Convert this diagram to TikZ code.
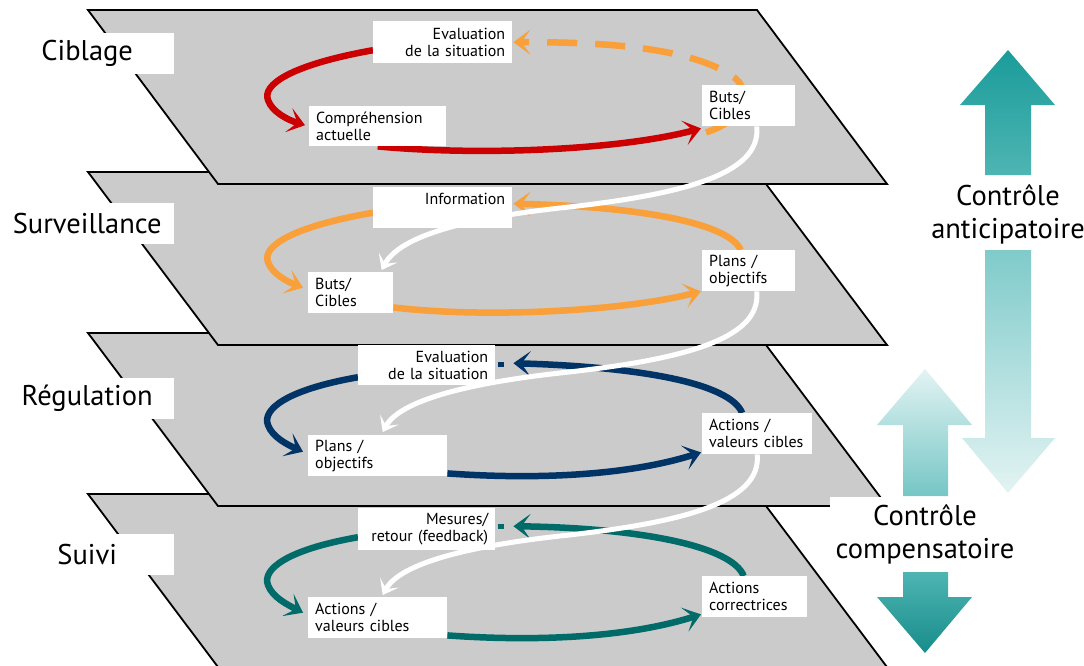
\documentclass[tikz,border=0pt]{standalone}
\usepackage{fontspec}
\setmainfont{PT Sans}
\usetikzlibrary{arrows.meta,calc}
\definecolor{planegray}{HTML}{CBCBCB}
\definecolor{cred}{HTML}{CC0000}
\definecolor{corange}{HTML}{F9A03A}
\definecolor{cnavy}{HTML}{003366}
\definecolor{cteal}{HTML}{006B68}
\definecolor{tdark}{HTML}{1A9C9A}
\definecolor{tmid}{HTML}{4EB5B3}
\definecolor{tlight}{HTML}{7FCBCA}
\definecolor{tpale}{HTML}{E3F3F3}
\pgfdeclarelayer{planes}
\pgfdeclarelayer{arcs}
\pgfdeclarelayer{wlines}
\pgfsetlayers{planes,arcs,wlines,main}
\tikzset{
  plane/.style={fill=planegray, draw=black, line width=1.8pt, line join=miter},
  box/.style={fill=white, inner xsep=7pt, inner ysep=0pt, anchor=north west,
              font=\fontsize{16}{17}\selectfont},
  lvl/.style={fill=white, inner sep=0pt, minimum width=174pt, minimum height=41pt,
              anchor=north west, font=\fontsize{28.5}{32}\selectfont},
  ctrl/.style={fill=white, inner sep=0pt, align=center, font=\fontsize{28.5}{33}\selectfont},
  loop/.style={line width=6.5pt, -{Stealth[length=17pt,width=25pt,inset=9pt]}},
  wlink/.style={white, line width=5pt, -{Stealth[length=14pt,width=21pt,inset=7pt]}},
}
\begin{document}
\begin{tikzpicture}[x=1pt,y=-1pt]
\useasboundingbox (0,0) rectangle (1084,665);

% level labels
\node[lvl] (lc) at (0,33) {Ciblage};
\node[lvl] (ls) at (0,203) {Surveillance};
\node[lvl] (lr) at (0,378) {Régulation};
\node[lvl] (lsu) at (0,534) {Suivi};

% level 1
\node[box, text width=125pt, minimum height=42pt, align=right] (ev1) at (373,21) {Evaluation\\\mbox{de la situation}};
\node[box, text width=123pt, minimum height=40pt, align=left] (comp1) at (309,106) {Compréhension\\actuelle};
\node[box, text width=79pt, minimum height=41pt, align=left] (buts1) at (702,85) {Buts/\\Cibles};
% level 2
\node[box, text width=125pt, minimum height=41pt, align=right] (info2) at (373,187) {Information\\\mbox{}};
\node[box, text width=71pt, minimum height=41pt, align=left] (buts2) at (308,272) {Buts/\\Cibles};
\node[box, text width=79pt, minimum height=41pt, align=left] (plans2) at (702,250) {Plans /\\objectifs};
% level 3
\node[box, text width=123pt, minimum height=40pt, align=right] (ev3) at (358,345) {Evaluation\\\mbox{de la situation}};
\node[box, text width=125pt, minimum height=41pt, align=left] (plans3) at (308,435) {Plans /\\objectifs};
\node[box, text width=96pt, minimum height=41pt, align=left] (act3) at (702,413) {Actions /\\\mbox{valeurs cibles}};
% level 4
\node[box, text width=123pt, minimum height=42pt, align=right] (mes4) at (358,508) {Mesures/\\\mbox{retour (feedback)}};
\node[box, text width=125pt, minimum height=41pt, align=left] (act4) at (308,597) {Actions /\\\mbox{valeurs cibles}};
\node[box, text width=91pt, minimum height=41pt, align=left] (cor4) at (702,576) {Actions\\correctrices};

% control labels
\node[ctrl] (cant) at (1008,214) {Contrôle\\anticipatoire};
\node[ctrl, minimum width=190pt, minimum height=74pt] (ccomp) at (925,534) {Contrôle\\compensatoire};

% big arrows
\shade[top color=tdark, bottom color=tmid]
  (985,175) -- (985,105) -- (960,105) -- (1008,50) -- (1055,105) -- (1031,105) -- (1031,175) -- cycle;
\shade[top color=tlight, bottom color=tpale]
  (985,250) -- (985,438) -- (962,438) -- (1008,493) -- (1055,438) -- (1031,438) -- (1031,250) -- cycle;
\shade[top color=tpale, bottom color=tlight!90!tdark]
  (903,496) -- (903,425) -- (877,425) -- (925,369) -- (972,425) -- (948,425) -- (948,496) -- cycle;
\shade[top color=tmid, bottom color=tdark!90!black]
  (903,572) -- (903,597) -- (877,597) -- (925,653) -- (972,597) -- (948,597) -- (948,572) -- cycle;

\begin{pgfonlayer}{planes}
\draw[plane] (88,494) -- (757,494) -- (887,667) -- (218,667) -- cycle;
\draw[plane] (88,333) -- (757,333) -- (887,506) -- (218,506) -- cycle;
\draw[plane] (88,172) -- (757,172) -- (887,345) -- (218,345) -- cycle;
\draw[plane] (88,10) -- (757,10) -- (887,184) -- (218,184) -- cycle;
\end{pgfonlayer}

\begin{pgfonlayer}{arcs}
% level 1 (red)
\draw[loop, cred] ($(ev1.west)+(0,8)$) .. controls (290,65) and (262,85) .. (268,100)
  .. controls (272,112) and (288,120) .. ($(comp1.west)+(-4,-1)$);
\draw[loop, cred] (comp1.south) .. controls (480,156) and (620,150) .. ($(buts1.south west)+(-1,2)$);
\draw[loop, corange, dash pattern=on 30pt off 18pt] ($(buts1.south west)+(4,6)$) .. controls (745,120) and (752,92) .. (735,78)
  .. controls (690,45) and (590,42) .. ($(ev1.east)+(1,0)$);
% level 2 (orange)
\draw[loop, corange] ($(info2.west)+(0,5)$) .. controls (290,227) and (262,247) .. (268,262)
  .. controls (272,274) and (288,282) .. ($(buts2.west)+(-5,-5)$);
\draw[loop, corange] ($(buts2.south east)+(0,-6)$) .. controls (480,318) and (620,312) .. ($(plans2.south west)+(-1,0)$);
\draw[loop, corange] ($(plans2.north)+(-8,0)$) .. controls (730,225) and (650,207) .. ($(info2.east)+(1,-4)$);
% level 3 (navy)
\draw[loop, cnavy] ($(ev3.west)+(0,12)$) .. controls (285,390) and (262,410) .. (268,425)
  .. controls (272,437) and (288,445) .. ($(plans3.west)+(-5,-4)$);
\draw[loop, cnavy] ($(plans3.south east)+(0,-3)$) .. controls (540,480) and (630,475) .. ($(act3.south west)+(-1,-2)$);
\draw[loop, cnavy] ($(act3.north)+(-15,0)$) .. controls (730,383) and (640,367) .. ($(ev3.east)+(18,-2)$);
\draw[cnavy, line width=5pt] ($(ev3.east)+(3,-1)$) -- ++(6,0);
% level 4 (teal)
\draw[loop, cteal] ($(mes4.west)+(0,8)$) .. controls (285,550) and (262,570) .. (268,585)
  .. controls (272,597) and (288,605) .. ($(act4.west)+(-5,-5)$);
\draw[loop, cteal] ($(act4.south east)+(0,-3)$) .. controls (540,642) and (630,637) .. ($(cor4.south west)+(-1,-3)$);
\draw[loop, cteal] ($(cor4.north)+(-11,0)$) .. controls (732,546) and (640,528) .. ($(mes4.east)+(18,-3)$);
\draw[cteal, line width=5pt] ($(mes4.east)+(3,-3)$) -- ++(6,0);
\end{pgfonlayer}

\begin{pgfonlayer}{wlines}
\draw[wlink] ($(buts1.south)+(8,0)$) .. controls (762,175) and (680,195) .. (560,208)
  .. controls (470,218) and (400,235) .. ($(buts2.north)+(31,-2)$);
\draw[wlink] ($(plans2.south)+(8,0)$) .. controls (762,340) and (680,360) .. (560,373)
  .. controls (470,383) and (400,400) .. ($(plans3.north)+(5,-3)$);
\draw[wlink] (act3.south) .. controls (762,503) and (680,523) .. (560,536)
  .. controls (470,546) and (400,563) .. ($(act4.north)+(5,-2)$);
\end{pgfonlayer}
\end{tikzpicture}
\end{document}
